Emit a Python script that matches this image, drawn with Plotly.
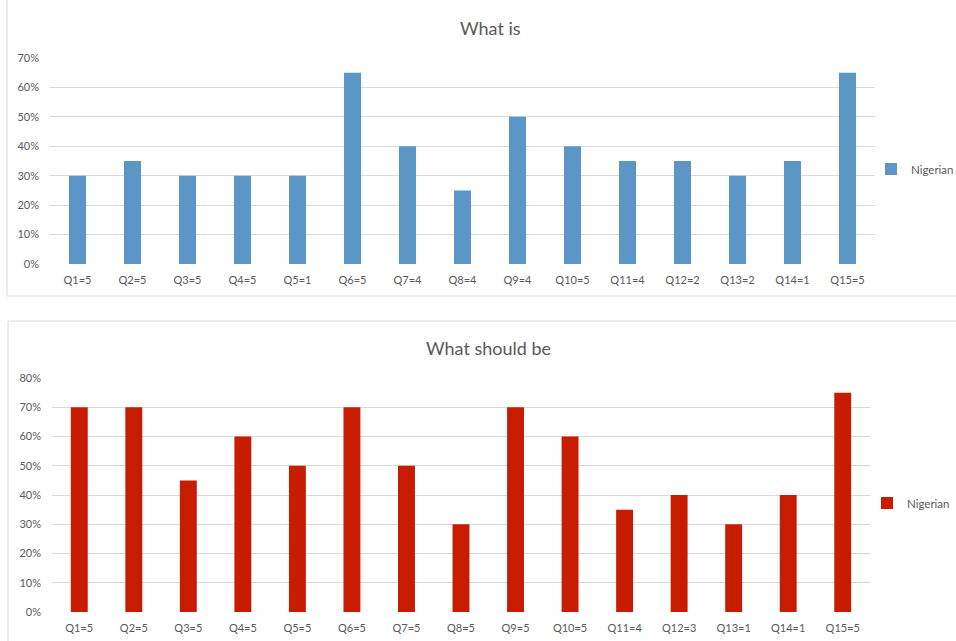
import plotly.graph_objects as go

# Survey questions with the modal answer shown in each label
questions_is = ["Q1=5", "Q2=5", "Q3=5", "Q4=5", "Q5=1", "Q6=5", "Q7=4", "Q8=4",
                "Q9=4", "Q10=5", "Q11=4", "Q12=2", "Q13=2", "Q14=1", "Q15=5"]
share_is = [0.30, 0.35, 0.30, 0.30, 0.30, 0.65, 0.40, 0.25,
            0.50, 0.40, 0.35, 0.35, 0.30, 0.35, 0.65]

questions_should = ["Q1=5", "Q2=5", "Q3=5", "Q4=5", "Q5=5", "Q6=5", "Q7=5", "Q8=5",
                    "Q9=5", "Q10=5", "Q11=4", "Q12=3", "Q13=1", "Q14=1", "Q15=5"]
share_should = [0.70, 0.70, 0.45, 0.60, 0.50, 0.70, 0.50, 0.30,
                0.70, 0.60, 0.35, 0.40, 0.30, 0.40, 0.75]

series_name = "Nigerian"
title_is = "What is"
title_should = "What should be"

W, H = 956, 641
FONT = "Lato"
TEXT = "#595959"
GRID = "#D9D9D9"
BLUE = "#5B96C6"
RED = "#C81C00"


def px_x(x):
    return x / W


def px_y(y):
    return 1 - y / H


fig = go.Figure()
fig.add_trace(go.Bar(x=questions_is, y=share_is, name=series_name,
                     marker=dict(color=BLUE), xaxis="x", yaxis="y",
                     legend="legend"))
fig.add_trace(go.Bar(x=questions_should, y=share_should, name=series_name,
                     marker=dict(color=RED), xaxis="x2", yaxis="y2",
                     legend="legend2"))

axis_common = dict(showline=False, zeroline=False, ticks="", automargin=False,
                   tickfont=dict(family=FONT, size=11, color=TEXT),
                   fixedrange=True)

legend_common = dict(xanchor="left", yanchor="middle", itemwidth=30,
                     font=dict(family=FONT, size=11.5, color=TEXT),
                     bgcolor="rgba(0,0,0,0)", borderwidth=0)

fig.update_layout(
    template="none",
    width=W, height=H,
    margin=dict(l=0, r=0, t=0, b=0, pad=0, autoexpand=False),
    paper_bgcolor="white", plot_bgcolor="white",
    bargap=0.69,
    font=dict(family=FONT, color=TEXT),
    xaxis=dict(domain=[px_x(50), px_x(875)], anchor="y", showgrid=False,
               ticklabelstandoff=8, **axis_common),
    yaxis=dict(domain=[px_y(264), px_y(58)], anchor="x", range=[0, 0.7],
               dtick=0.1, tickformat=".0%", showgrid=True, gridcolor=GRID,
               gridwidth=1, ticklabelstandoff=10, **axis_common),
    xaxis2=dict(domain=[px_x(52), px_x(870)], anchor="y2", showgrid=False,
                ticklabelstandoff=8, **axis_common),
    yaxis2=dict(domain=[px_y(612), px_y(378)], anchor="x2", range=[0, 0.8],
                dtick=0.1, tickformat=".0%", showgrid=True, gridcolor=GRID,
                gridwidth=1, ticklabelstandoff=10, **axis_common),
    legend=dict(x=px_x(871), y=px_y(169), **legend_common),
    legend2=dict(x=px_x(867), y=px_y(503), **legend_common),
    showlegend=True,
)

# Chart frames
fig.add_shape(type="rect", xref="paper", yref="paper",
              x0=px_x(7), x1=px_x(W + 5), y0=px_y(296), y1=px_y(-5),
              line=dict(color=GRID, width=1), fillcolor="rgba(0,0,0,0)",
              layer="below")
fig.add_shape(type="rect", xref="paper", yref="paper",
              x0=px_x(8), x1=px_x(W + 5), y0=px_y(H + 5), y1=px_y(321),
              line=dict(color=GRID, width=1), fillcolor="rgba(0,0,0,0)",
              layer="below")

# Chart titles
fig.add_annotation(text=title_is, xref="paper", yref="paper",
                   x=px_x(490), y=px_y(28), showarrow=False,
                   xanchor="center", yanchor="middle",
                   font=dict(family=FONT, size=18, color=TEXT))
fig.add_annotation(text=title_should, xref="paper", yref="paper",
                   x=px_x(488), y=px_y(348), showarrow=False,
                   xanchor="center", yanchor="middle",
                   font=dict(family=FONT, size=18, color=TEXT))

fig.write_html("out.html")
